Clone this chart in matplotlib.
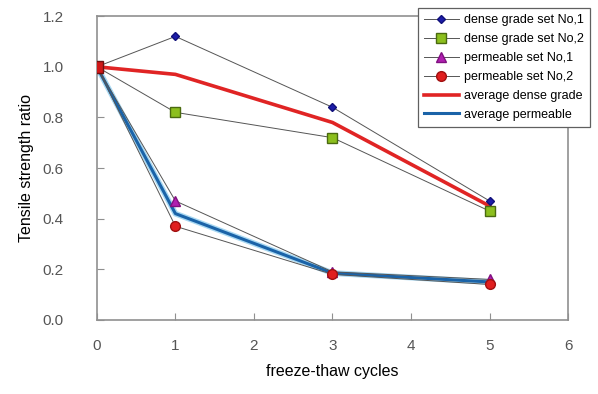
import matplotlib
matplotlib.use('Agg')
import matplotlib.pyplot as plt

plt.rcParams['font.family'] = ['Liberation Sans', 'DejaVu Sans']

cycles = [0, 1, 3, 5]
dense_1 = [1.0, 1.12, 0.84, 0.47]
dense_2 = [1.0, 0.82, 0.72, 0.43]
perm_1 = [1.0, 0.47, 0.19, 0.16]
perm_2 = [1.0, 0.37, 0.18, 0.14]
avg_dense = [1.0, 0.97, 0.78, 0.45]
avg_perm = [1.0, 0.42, 0.185, 0.15]

fig = plt.figure(figsize=(5.98, 3.94), dpi=100)
ax = fig.add_axes([0.162, 0.188, 0.788, 0.771])

thin = dict(color='#555555', lw=0.7, zorder=3)
ax.plot(cycles, dense_1, marker='D', ms=4.5, mfc='#1c1ca8', mec='#10107a',
        label='dense grade set No,1', **thin)
ax.plot(cycles, dense_2, marker='s', ms=7, mfc='#8cbf1e', mec='#4a6a10',
        label='dense grade set No,2', **thin)
ax.plot(cycles, perm_1, marker='^', ms=6.5, mfc='#b020b0', mec='#801080',
        label='permeable set No,1', **thin)
ax.plot(cycles, perm_2, marker='o', ms=7, mfc='#e01e1e', mec='#a01010',
        label='permeable set No,2', **thin)
ax.plot(cycles, avg_dense, color='#e02424', lw=2.6, zorder=2,
        label='average dense grade')
ax.plot(cycles, avg_perm, color='#a8d8f2', lw=4.2, zorder=1.8)
ax.plot(cycles, avg_perm, color='#1a63a8', lw=2.2, zorder=2,
        label='average permeable')
# shared start point drawn on top
ax.plot(cycles[:1], perm_2[:1], ls='none', marker='s', ms=8, mfc='#d01818',
        mec='#701010', zorder=4)

ax.set_xlim(0, 6)
ax.set_ylim(0, 1.2)
ax.set_xticks(range(7))
ax.set_yticks([0, 0.2, 0.4, 0.6, 0.8, 1.0, 1.2])
ax.set_yticklabels(['0.0', '0.2', '0.4', '0.6', '0.8', '1.0', '1.2'])
for s in ax.spines.values():
    s.set_color('#909090')
    s.set_linewidth(1.2)
ax.tick_params(direction='in', length=5, color='#909090', labelcolor='#555555',
               labelsize=11, top=False, right=False)
ax.tick_params(axis='y', pad=24)
ax.tick_params(axis='x', pad=14)

ax.set_xlabel('freeze-thaw cycles', fontsize=11.5, labelpad=8)
ax.set_ylabel('Tensile strength ratio', fontsize=11.5, labelpad=6)

leg = fig.legend(loc='upper right', bbox_to_anchor=(0.997, 0.995), fontsize=9,
                 fancybox=False, framealpha=1, edgecolor='#606060',
                 handlelength=2.8, handletextpad=0.4, labelspacing=0.55,
                 borderpad=0.5)
leg.get_frame().set_linewidth(0.9)

fig.savefig('out.png', dpi=100)
